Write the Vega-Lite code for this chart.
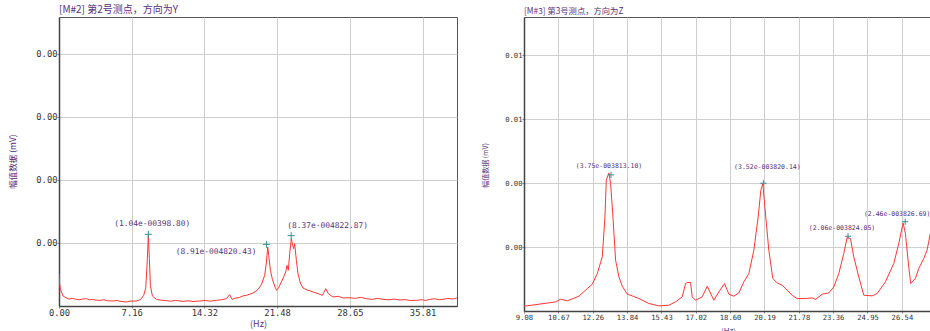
{
  "$schema": "https://vega.github.io/schema/vega-lite/v6.json",
  "background": "white",
  "padding": {"left": 7, "top": 4, "right": 0, "bottom": 0},
  "spacing": 22,
  "config": {
    "view": {"stroke": "#555", "strokeWidth": 1},
    "axis": {"labelFont": "DejaVu Sans Mono", "labelColor": "#333", "gridColor": "#cfcfcf", "gridWidth": 1, "domainColor": "#444", "domainWidth": 1.5, "tickColor": "#888", "tickSize": 2, "titleFont": "Noto Sans CJK SC", "titleColor": "#5a2f78", "titleFontWeight": "normal"},
    "title": {"font": "Noto Sans CJK SC", "fontWeight": "normal", "color": "#5a2f78", "anchor": "start", "frame": "group"}
  },
  "datasets": {
    "m2": [
      {"hz": 0.00, "amp": 0.000467}, {"hz": 0.04, "amp": 0.000347}, {"hz": 0.14, "amp": 0.000241}, {"hz": 0.40, "amp": 0.000144},
      {"hz": 0.73, "amp": 0.000116}, {"hz": 1.0, "amp": 0.000100}, {"hz": 1.3, "amp": 0.000110}, {"hz": 1.71, "amp": 0.000096},
      {"hz": 2.0, "amp": 0.000090}, {"hz": 2.3, "amp": 0.000100}, {"hz": 2.69, "amp": 0.000106}, {"hz": 3.0, "amp": 0.000088},
      {"hz": 3.3, "amp": 0.000095}, {"hz": 3.6, "amp": 0.000085}, {"hz": 4.01, "amp": 0.000082}, {"hz": 4.4, "amp": 0.000090},
      {"hz": 4.8, "amp": 0.000075}, {"hz": 5.32, "amp": 0.000072}, {"hz": 5.7, "amp": 0.000080}, {"hz": 6.1, "amp": 0.000065},
      {"hz": 6.63, "amp": 0.000058}, {"hz": 7.0, "amp": 0.000070}, {"hz": 7.62, "amp": 0.000072}, {"hz": 7.9, "amp": 0.000085},
      {"hz": 8.11, "amp": 0.000106}, {"hz": 8.34, "amp": 0.000154}, {"hz": 8.54, "amp": 0.000260}, {"hz": 8.67, "amp": 0.000587},
      {"hz": 8.80, "amp": 0.00102}, {"hz": 8.90, "amp": 0.000683}, {"hz": 9.00, "amp": 0.000298}, {"hz": 9.20, "amp": 0.000144},
      {"hz": 9.59, "amp": 0.000096}, {"hz": 10.0, "amp": 0.000085}, {"hz": 10.58, "amp": 0.000077}, {"hz": 11.0, "amp": 0.000070},
      {"hz": 11.5, "amp": 0.000080}, {"hz": 12.22, "amp": 0.000067}, {"hz": 12.7, "amp": 0.000075}, {"hz": 13.2, "amp": 0.000065},
      {"hz": 13.86, "amp": 0.000072}, {"hz": 14.4, "amp": 0.000080}, {"hz": 14.9, "amp": 0.000070}, {"hz": 15.50, "amp": 0.000082},
      {"hz": 16.0, "amp": 0.000090}, {"hz": 16.48, "amp": 0.000106}, {"hz": 16.81, "amp": 0.000164}, {"hz": 17.04, "amp": 0.000096},
      {"hz": 17.4, "amp": 0.000115}, {"hz": 17.80, "amp": 0.000125}, {"hz": 18.1, "amp": 0.000145}, {"hz": 18.45, "amp": 0.000154},
      {"hz": 18.8, "amp": 0.000170}, {"hz": 19.11, "amp": 0.000188}, {"hz": 19.4, "amp": 0.000215}, {"hz": 19.61, "amp": 0.000241},
      {"hz": 19.93, "amp": 0.000308}, {"hz": 20.26, "amp": 0.000443}, {"hz": 20.43, "amp": 0.000635}, {"hz": 20.56, "amp": 0.000852},
      {"hz": 20.66, "amp": 0.000730}, {"hz": 20.82, "amp": 0.000515}, {"hz": 21.02, "amp": 0.000385}, {"hz": 21.28, "amp": 0.000274},
      {"hz": 21.44, "amp": 0.000226}, {"hz": 21.67, "amp": 0.000274}, {"hz": 21.90, "amp": 0.000347}, {"hz": 22.13, "amp": 0.000419},
      {"hz": 22.33, "amp": 0.000491}, {"hz": 22.46, "amp": 0.000587}, {"hz": 22.59, "amp": 0.000515}, {"hz": 22.72, "amp": 0.000756},
      {"hz": 22.88, "amp": 0.000972}, {"hz": 23.02, "amp": 0.000876}, {"hz": 23.11, "amp": 0.000828}, {"hz": 23.21, "amp": 0.000900},
      {"hz": 23.38, "amp": 0.000659}, {"hz": 23.54, "amp": 0.000467}, {"hz": 23.77, "amp": 0.000332}, {"hz": 24.03, "amp": 0.000260},
      {"hz": 24.3, "amp": 0.000240}, {"hz": 24.53, "amp": 0.000226}, {"hz": 24.8, "amp": 0.000215}, {"hz": 25.02, "amp": 0.000202},
      {"hz": 25.3, "amp": 0.000190}, {"hz": 25.51, "amp": 0.000178}, {"hz": 25.75, "amp": 0.000165}, {"hz": 25.94, "amp": 0.000154},
      {"hz": 26.10, "amp": 0.000200}, {"hz": 26.27, "amp": 0.000250}, {"hz": 26.53, "amp": 0.000178}, {"hz": 26.99, "amp": 0.000130},
      {"hz": 27.5, "amp": 0.000140}, {"hz": 28.0, "amp": 0.000115}, {"hz": 28.63, "amp": 0.000120}, {"hz": 29.2, "amp": 0.000110},
      {"hz": 29.7, "amp": 0.000125}, {"hz": 30.27, "amp": 0.000106}, {"hz": 30.8, "amp": 0.000095}, {"hz": 31.4, "amp": 0.000110},
      {"hz": 31.91, "amp": 0.000096}, {"hz": 32.5, "amp": 0.000090}, {"hz": 33.0, "amp": 0.000100}, {"hz": 33.56, "amp": 0.000087},
      {"hz": 34.1, "amp": 0.000092}, {"hz": 34.6, "amp": 0.000080}, {"hz": 35.20, "amp": 0.000082}, {"hz": 35.8, "amp": 0.000090},
      {"hz": 36.1, "amp": 0.000080}, {"hz": 36.51, "amp": 0.000096}, {"hz": 37.0, "amp": 0.000105}, {"hz": 37.4, "amp": 0.000090},
      {"hz": 37.82, "amp": 0.000096}, {"hz": 38.3, "amp": 0.000110}, {"hz": 38.8, "amp": 0.000100}, {"hz": 39.20, "amp": 0.000116}
    ],
    "m2peaks": [
      {"hz": 8.80, "amp": 0.001035, "label": "(1.04e-00398.80)"},
      {"hz": 20.43, "amp": 0.000890, "label": "(8.91e-004820.43)"},
      {"hz": 22.87, "amp": 0.001016, "label": "(8.37e-004822.87)"}
    ],
    "m3": [
      {"hz": 9.080, "amp": 0.000132}, {"hz": 9.773, "amp": 0.000187}, {"hz": 10.542, "amp": 0.000252}, {"hz": 10.773, "amp": 0.000325},
      {"hz": 11.081, "amp": 0.000279}, {"hz": 11.619, "amp": 0.000408}, {"hz": 12.004, "amp": 0.000619}, {"hz": 12.235, "amp": 0.000738},
      {"hz": 12.466, "amp": 0.001032}, {"hz": 12.697, "amp": 0.001491}, {"hz": 12.820, "amp": 0.002592}, {"hz": 12.881, "amp": 0.003602},
      {"hz": 13.004, "amp": 0.003804}, {"hz": 13.081, "amp": 0.003510}, {"hz": 13.189, "amp": 0.002592}, {"hz": 13.312, "amp": 0.001399},
      {"hz": 13.466, "amp": 0.000940}, {"hz": 13.620, "amp": 0.000683}, {"hz": 13.851, "amp": 0.000463}, {"hz": 14.082, "amp": 0.000417},
      {"hz": 14.390, "amp": 0.000343}, {"hz": 14.851, "amp": 0.000206}, {"hz": 15.313, "amp": 0.000141}, {"hz": 15.775, "amp": 0.000160},
      {"hz": 16.082, "amp": 0.000252}, {"hz": 16.390, "amp": 0.000389}, {"hz": 16.544, "amp": 0.000756}, {"hz": 16.621, "amp": 0.000784},
      {"hz": 16.775, "amp": 0.000784}, {"hz": 16.852, "amp": 0.000389}, {"hz": 17.006, "amp": 0.000297}, {"hz": 17.314, "amp": 0.000389},
      {"hz": 17.545, "amp": 0.000683}, {"hz": 17.852, "amp": 0.000297}, {"hz": 18.083, "amp": 0.000527}, {"hz": 18.345, "amp": 0.000756},
      {"hz": 18.545, "amp": 0.000463}, {"hz": 18.776, "amp": 0.000408}, {"hz": 19.007, "amp": 0.000499}, {"hz": 19.237, "amp": 0.000802},
      {"hz": 19.468, "amp": 0.001032}, {"hz": 19.699, "amp": 0.001674}, {"hz": 19.899, "amp": 0.002592}, {"hz": 20.022, "amp": 0.003327},
      {"hz": 20.115, "amp": 0.003510}, {"hz": 20.207, "amp": 0.002868}, {"hz": 20.392, "amp": 0.001674}, {"hz": 20.576, "amp": 0.000894},
      {"hz": 20.776, "amp": 0.000775}, {"hz": 21.007, "amp": 0.000711}, {"hz": 21.238, "amp": 0.000573}, {"hz": 21.469, "amp": 0.000435},
      {"hz": 21.700, "amp": 0.000343}, {"hz": 22.085, "amp": 0.000343}, {"hz": 22.392, "amp": 0.000362}, {"hz": 22.546, "amp": 0.000316},
      {"hz": 22.854, "amp": 0.000463}, {"hz": 23.162, "amp": 0.000499}, {"hz": 23.393, "amp": 0.000665}, {"hz": 23.624, "amp": 0.001032},
      {"hz": 23.854, "amp": 0.001583}, {"hz": 24.008, "amp": 0.002023}, {"hz": 24.162, "amp": 0.001996}, {"hz": 24.316, "amp": 0.001491},
      {"hz": 24.547, "amp": 0.000940}, {"hz": 24.778, "amp": 0.000435}, {"hz": 25.163, "amp": 0.000417}, {"hz": 25.393, "amp": 0.000481},
      {"hz": 25.778, "amp": 0.000802}, {"hz": 26.163, "amp": 0.001307}, {"hz": 26.394, "amp": 0.001858}, {"hz": 26.594, "amp": 0.002427},
      {"hz": 26.702, "amp": 0.002133}, {"hz": 26.855, "amp": 0.001215}, {"hz": 26.948, "amp": 0.000756}, {"hz": 27.163, "amp": 0.000894},
      {"hz": 27.317, "amp": 0.001170}, {"hz": 27.548, "amp": 0.001445}, {"hz": 27.702, "amp": 0.001674}, {"hz": 27.933, "amp": 0.002390}
    ],
    "m3peaks": [
      {"hz": 13.10, "amp": 0.00375, "label": "(3.75e-003813.10)"},
      {"hz": 20.14, "amp": 0.00352, "label": "(3.52e-003820.14)"},
      {"hz": 24.05, "amp": 0.00206, "label": "(2.06e-003824.05)"},
      {"hz": 26.69, "amp": 0.00246, "label": "(2.46e-003826.69)"}
    ]
  },
  "hconcat": [
    {
      "width": 398,
      "height": 289,
      "title": {"text": "[M#2] 第2号测点，方向为Y", "fontSize": 10, "offset": 2},
      "encoding": {
        "x": {"field": "hz", "type": "quantitative", "scale": {"domain": [0, 39.2], "nice": false, "zero": false},
              "axis": {"values": [0, 7.16, 14.32, 21.48, 28.65, 35.81], "format": ".2f", "title": "(Hz)", "labelFontSize": 8.8, "labelPadding": 0, "titleFontSize": 9, "titleY": 17, "titleBaseline": "middle", "labelFlush": false}},
        "y": {"field": "amp", "type": "quantitative", "scale": {"domain": [0, 0.004173], "nice": false},
              "axis": {"values": [0.00091, 0.00182, 0.00273, 0.00364], "format": ".2f", "title": "幅值数据 (mV)", "labelFontSize": 8.8, "labelPadding": 0, "titleFontSize": 8.5, "titleX": -47, "titleY": 144, "titleAngle": -90, "titleAlign": "center", "titleBaseline": "middle"}}
      },
      "layer": [
        {"data": {"name": "m2"}, "mark": {"type": "line", "color": "#ff3535", "strokeWidth": 1, "clip": true}},
        {"data": {"name": "m2peaks"}, "mark": {"type": "point", "shape": "M-1,0L1,0M0,-1L0,1", "size": 50, "filled": false, "stroke": "#3a8f8f", "strokeWidth": 1, "opacity": 1}},
        {"data": {"name": "m2peaks"}, "transform": [{"filter": {"field": "label", "equal": "(1.04e-00398.80)"}}],
         "mark": {"type": "text", "font": "DejaVu Sans Mono", "fontSize": 7.9, "color": "#5a2f78", "align": "center", "baseline": "middle", "dx": 4, "dy": -10},
         "encoding": {"text": {"field": "label"}}},
        {"data": {"name": "m2peaks"}, "transform": [{"filter": {"field": "label", "equal": "(8.91e-004820.43)"}}],
         "mark": {"type": "text", "font": "DejaVu Sans Mono", "fontSize": 7.9, "color": "#5a2f78", "align": "right", "baseline": "middle", "dx": -10, "dy": 8},
         "encoding": {"text": {"field": "label"}}},
        {"data": {"name": "m2peaks"}, "transform": [{"filter": {"field": "label", "equal": "(8.37e-004822.87)"}}],
         "mark": {"type": "text", "font": "DejaVu Sans Mono", "fontSize": 7.9, "color": "#5a2f78", "align": "left", "baseline": "middle", "dx": -4, "dy": -10},
         "encoding": {"text": {"field": "label"}}}
      ]
    },
    {
      "width": 408,
      "height": 294,
      "title": {"text": "[M#3] 第3号测点，方向为Z", "fontSize": 8.3, "offset": 2},
      "encoding": {
        "x": {"field": "hz", "type": "quantitative", "scale": {"domain": [9.08, 27.93], "nice": false, "zero": false},
              "axis": {"values": [9.08, 10.67, 12.26, 13.84, 15.43, 17.02, 18.60, 20.19, 21.78, 23.36, 24.95, 26.54], "format": ".2f", "title": "(Hz)", "labelFontSize": 7.2, "labelPadding": 0, "titleFontSize": 8, "titleY": 20, "titleBaseline": "middle", "labelFlush": false}},
        "y": {"field": "amp", "type": "quantitative", "scale": {"domain": [0, 0.0081], "nice": false},
              "axis": {"values": [0.00176, 0.00352, 0.00528, 0.00704], "format": ".2f", "title": "幅值数据 (mV)", "labelFontSize": 7.2, "labelPadding": 0, "titleFontSize": 7, "titleX": -39, "titleY": 148, "titleAngle": -90, "titleAlign": "center", "titleBaseline": "middle"}}
      },
      "layer": [
        {"data": {"name": "m3"}, "mark": {"type": "line", "color": "#ff3535", "strokeWidth": 1, "clip": true}},
        {"data": {"name": "m3peaks"}, "mark": {"type": "point", "shape": "M-1,0L1,0M0,-1L0,1", "size": 40, "filled": false, "stroke": "#3a8f8f", "strokeWidth": 1, "opacity": 1}},
        {"data": {"name": "m3peaks"}, "transform": [{"filter": {"field": "label", "equal": "(3.75e-003813.10)"}}],
         "mark": {"type": "text", "font": "DejaVu Sans Mono", "fontSize": 6.5, "color": "#5a2f78", "align": "center", "baseline": "middle", "dx": -2, "dy": -9},
         "encoding": {"text": {"field": "label"}}},
        {"data": {"name": "m3peaks"}, "transform": [{"filter": {"field": "label", "equal": "(3.52e-003820.14)"}}],
         "mark": {"type": "text", "font": "DejaVu Sans Mono", "fontSize": 6.5, "color": "#5a2f78", "align": "center", "baseline": "middle", "dx": 4, "dy": -16},
         "encoding": {"text": {"field": "label"}}},
        {"data": {"name": "m3peaks"}, "transform": [{"filter": {"field": "label", "equal": "(2.06e-003824.05)"}}],
         "mark": {"type": "text", "font": "DejaVu Sans Mono", "fontSize": 6.5, "color": "#5a2f78", "align": "center", "baseline": "middle", "dx": -6, "dy": -8.5},
         "encoding": {"text": {"field": "label"}}},
        {"data": {"name": "m3peaks"}, "transform": [{"filter": {"field": "label", "equal": "(2.46e-003826.69)"}}],
         "mark": {"type": "text", "font": "DejaVu Sans Mono", "fontSize": 6.5, "color": "#5a2f78", "align": "center", "baseline": "middle", "dx": -8, "dy": -8},
         "encoding": {"text": {"field": "label"}}}
      ]
    }
  ]
}
